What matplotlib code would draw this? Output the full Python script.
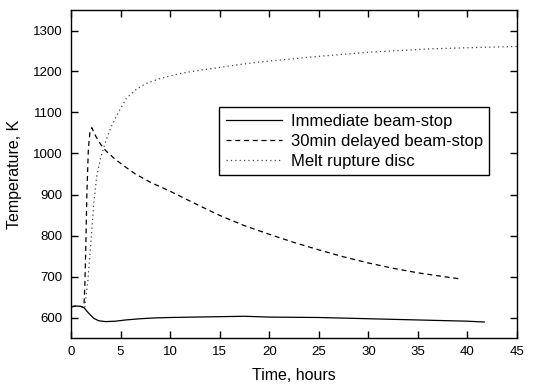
import numpy as np
import matplotlib.pyplot as plt

plt.rcParams['font.family'] = ['Liberation Sans', 'DejaVu Sans']

# immediate beam-stop
t_imm = [0, 0.5, 1.0, 1.3, 1.8, 2.3, 2.8, 3.5, 4.5, 5.5, 7, 8.5, 10, 12.5, 15, 17.5, 20, 25, 30, 35, 40, 41.7]
T_imm = [626, 628, 627, 624, 610, 598, 592, 590, 591, 594, 597, 599, 600, 601, 602, 603, 601, 600, 597, 594, 591, 589]

# 30 min delayed beam-stop
t_del = [0, 0.5, 1.0, 1.3, 1.4, 1.5, 1.6, 1.75, 1.9, 2.1, 2.5, 3.0, 3.5, 4.5, 5.5, 6.5, 8, 10, 12.5, 15, 17.5, 20, 22.5, 25, 27.5, 30, 32.5, 35, 37.5, 39.3]
T_del = [626, 628, 627, 624, 680, 780, 900, 1010, 1050, 1063, 1042, 1022, 1007, 985, 967, 950, 930, 908, 878, 849, 824, 803, 783, 765, 748, 733, 720, 709, 700, 694]

# melt rupture disc
t_melt = [1.4, 1.7, 2.0, 2.3, 2.6, 3.0, 3.5, 4.0, 4.5, 5.0, 5.6, 6.5, 7.5, 9, 11, 13, 15, 17, 19, 22, 25, 28, 30, 33, 36, 40, 45]
T_melt = [625, 690, 780, 880, 945, 990, 1030, 1062, 1087, 1110, 1135, 1155, 1170, 1183, 1195, 1203, 1210, 1217, 1223, 1230, 1237, 1243, 1247, 1251, 1255, 1258, 1261]

fig = plt.figure(figsize=(5.45, 3.85), dpi=100)
ax = fig.add_axes([71 / 545, 1 - 338 / 385, 446 / 545, 328 / 385])

ax.plot(t_imm, T_imm, color='black', lw=0.9, label='Immediate beam-stop')
ax.plot(t_del, T_del, color='black', lw=0.9, ls=(0, (4, 3)), label='30min delayed beam-stop')
ax.plot(t_melt, T_melt, color='#444444', lw=0.9, ls=(0, (1, 2.5)), label='Melt rupture disc')

ax.set_xlim(0, 45)
ax.set_ylim(550, 1350)
ax.set_xticks(np.arange(0, 46, 5))
ax.set_yticks(np.arange(600, 1301, 100))
ax.tick_params(direction='in', top=True, right=True, labeltop=False, labelright=False,
               length=5, width=1, labelsize=9.5, pad=6)
for s in ax.spines.values():
    s.set_linewidth(1)

ax.set_xlabel('Time, hours', fontsize=11.5, labelpad=7)
ax.set_ylabel('Temperature, K', fontsize=11.5, labelpad=8)

leg = ax.legend(loc='upper left', bbox_to_anchor=(148 / 446, 1 - 97 / 328), fontsize=12,
                frameon=True, fancybox=False, edgecolor='black', framealpha=1,
                handlelength=3.4, handletextpad=0.5, borderpad=0.4, labelspacing=0.3,
                borderaxespad=0)
leg.get_frame().set_linewidth(1)

fig.savefig('out.png', dpi=100)
